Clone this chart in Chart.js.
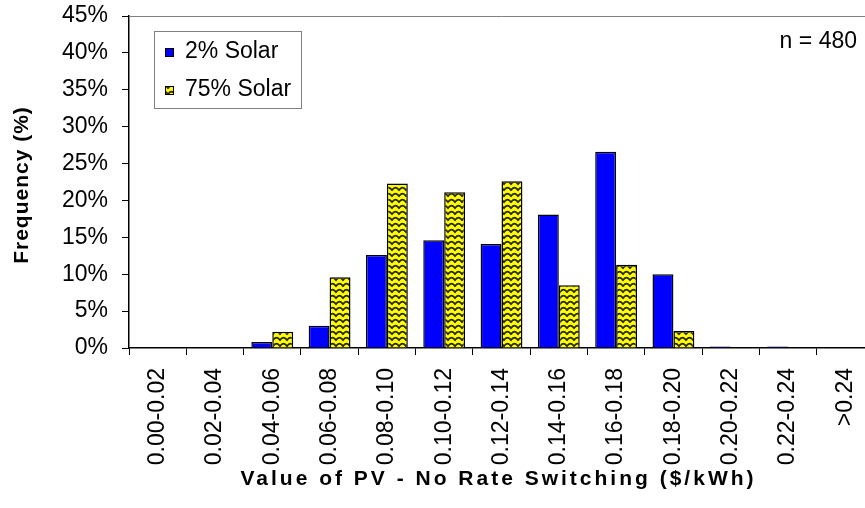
<!DOCTYPE html>
<html lang="en">
<head>
  <meta charset="UTF-8">
  <title>Value of PV - No Rate Switching</title>
  <script src="https://cdn.jsdelivr.net/npm/chart.js"></script>
  <style>
    body {
      margin: 0;
      background: #ffffff;
      overflow: hidden;
    }
    /* plot runs a little past the right edge of the window, like the original */
    .chart-container {
      position: relative;
      width: 874px;
      height: 508px;
    }
  </style>
</head>
<body>
  <div class="chart-container">
    <canvas id="pvChart"></canvas>
  </div>

  <script>
    const categories = ['0.00-0.02', '0.02-0.04', '0.04-0.06', '0.06-0.08', '0.08-0.10', '0.10-0.12',
      '0.12-0.14', '0.14-0.16', '0.16-0.18', '0.18-0.20', '0.20-0.22', '0.22-0.24', '>0.24'];
    const solar2 = [0, 0, 0.8, 3.0, 12.6, 14.6, 14.1, 18.1, 26.6, 10.0, 0.2, 0.2, 0];
    const solar75 = [0, 0, 2.2, 9.6, 22.3, 21.1, 22.6, 8.5, 11.3, 2.3, 0, 0, 0];
    const seriesNames = ['2% Solar', '75% Solar'];
    const xTitle = 'Value of PV - No Rate Switching ($/kWh)';
    const yTitle = 'Frequency (%)';
    const sampleNote = 'n = 480';

    const FONT = "'Liberation Sans', Arial, sans-serif";

    // yellow fill with the dark wavy lines
    function zigzagPattern() {
      const c = document.createElement('canvas');
      c.width = 7;
      c.height = 6;
      const g = c.getContext('2d');
      g.fillStyle = '#ffff00';
      g.fillRect(0, 0, 7, 6);
      g.strokeStyle = '#262600';
      g.lineWidth = 1.8;
      g.beginPath();
      g.moveTo(-0.5, 4.8);
      g.quadraticCurveTo(3.5, -1.5, 7.5, 4.8);
      g.stroke();
      return g.createPattern(c, 'repeat');
    }
    const yellowFill = zigzagPattern();

    // gray plot frame on top / right
    const framePlugin = {
      id: 'plotFrame',
      beforeDatasetsDraw(chart) {
        const { ctx, chartArea: a } = chart;
        ctx.save();
        ctx.strokeStyle = '#808080';
        ctx.lineWidth = 1;
        ctx.beginPath();
        ctx.moveTo(a.left, a.top + 0.5);
        ctx.lineTo(a.right - 0.5, a.top + 0.5);
        ctx.lineTo(a.right - 0.5, a.bottom);
        ctx.stroke();
        ctx.restore();
      }
    };

    // boxed legend, sample size note and the (letter-spaced) axis titles
    const textPlugin = {
      id: 'chartTexts',
      afterDraw(chart) {
        const { ctx, chartArea: a } = chart;
        const x = a.left + 25, y = a.top + 15, w = 147, h = 77;
        ctx.save();
        ctx.fillStyle = '#ffffff';
        ctx.fillRect(x, y, w, h);
        ctx.strokeStyle = '#808080';
        ctx.lineWidth = 1;
        ctx.strokeRect(x + 0.5, y + 0.5, w, h);
        ctx.font = '23px ' + FONT;
        ctx.textBaseline = 'middle';
        chart.data.datasets.forEach((ds, i) => {
          const cy = y + 21 + i * 38;
          ctx.fillStyle = ds.backgroundColor;
          ctx.fillRect(x + 11, cy - 4, 9, 9);
          ctx.strokeStyle = '#000';
          ctx.strokeRect(x + 11.5, cy - 3.5, 8, 8);
          ctx.fillStyle = '#000';
          ctx.fillText(ds.label, x + 31, cy);
        });

        ctx.font = '23px ' + FONT;
        ctx.textAlign = 'right';
        ctx.fillText(sampleNote, a.left + 728, a.top + 26);

        // axis titles
        const spaced = 'letterSpacing' in ctx;
        ctx.textAlign = 'center';
        ctx.font = 'bold 21px ' + FONT;
        if (spaced) ctx.letterSpacing = '3px';
        ctx.fillText(xTitle, (a.left + a.right) / 2 - 3, a.bottom + 131);
        if (spaced) ctx.letterSpacing = '1px';
        ctx.translate(22, (a.top + a.bottom) / 2 + 3);
        ctx.rotate(-Math.PI / 2);
        ctx.fillText(yTitle, 0, 0);
        ctx.restore();
      }
    };

    const ctx = document.getElementById('pvChart').getContext('2d');
    const pvChart = new Chart(ctx, {
      type: 'bar',
      data: {
        labels: categories,
        datasets: [{
          label: seriesNames[0],
          data: solar2,
          backgroundColor: '#0000ff',
          borderColor: '#000000',
          borderWidth: 1.5,
        }, {
          label: seriesNames[1],
          data: solar75,
          backgroundColor: yellowFill,
          borderColor: '#000000',
          borderWidth: 1.5,
        }]
      },
      options: {
        responsive: true,
        maintainAspectRatio: false,
        animation: false,
        layout: { padding: { top: 16, left: 0, right: 0, bottom: 0 } },
        datasets: {
          bar: { categoryPercentage: 0.73, barPercentage: 1.0 }
        },
        plugins: {
          legend: { display: false },
          tooltip: { enabled: false },
        },
        scales: {
          x: {
            afterFit: (scale) => {
              scale.height = 160;
              scale.paddingLeft = 0;
              scale.paddingRight = 0;
            },
            ticks: {
              color: '#000',
              font: { family: FONT, size: 23 },
              minRotation: 90,
              maxRotation: 90,
              autoSkip: false,
              padding: 13,
            },
            grid: {
              drawOnChartArea: false,
              color: '#000',
              tickLength: 7,
              offset: true,
            },
            border: { color: '#000', width: 1.5 },
          },
          y: {
            min: 0,
            max: 45,
            afterFit: (scale) => {
              scale.width = 129;
              scale.paddingTop = 0;
              scale.paddingBottom = 0;
            },
            ticks: {
              stepSize: 5,
              color: '#000',
              font: { family: FONT, size: 23 },
              padding: 14,
              callback: (value) => value + '%',
            },
            grid: {
              drawOnChartArea: false,
              color: '#000',
              tickLength: 7,
            },
            border: { color: '#000', width: 1.5 },
          },
        },
      },
      plugins: [framePlugin, textPlugin],
    });
  </script>
</body>
</html>
